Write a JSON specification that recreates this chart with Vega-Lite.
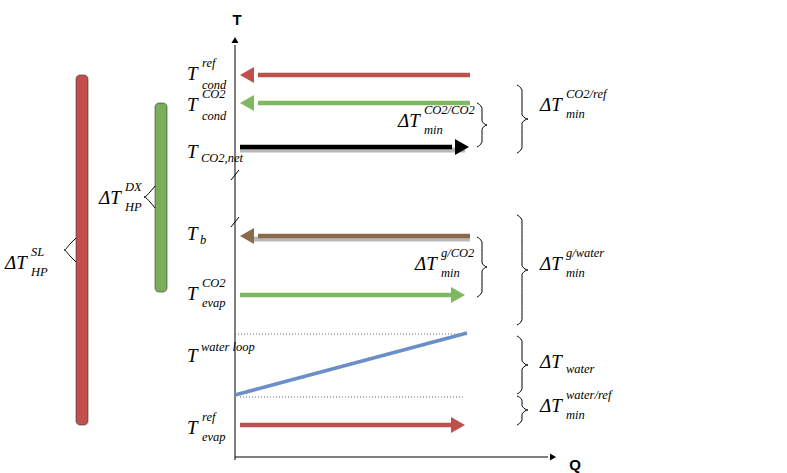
{
  "$schema": "https://vega.github.io/schema/vega-lite/v6.json",
  "autosize": {"type": "fit", "contains": "padding"},
  "width": 787,
  "height": 473,
  "padding": 0,
  "background": "white",
  "config": {"view": {"stroke": null}},
  "resolve": {"scale": {"color": "independent"}},
  "datasets": {
    "bars": [
      {"name": "SL", "x": 76, "x2": 88, "y": 75, "y2": 425},
      {"name": "DX", "x": 155, "x2": 167, "y": 103, "y2": 292}
    ],
    "axes": [
      {"x": 235, "y": 460, "x2": 235, "y2": 45},
      {"x": 235, "y": 457, "x2": 548, "y2": 457},
      {"x": 231, "y": 180, "x2": 239, "y2": 170},
      {"x": 231, "y": 227, "x2": 239, "y2": 217}
    ],
    "axisHeads": [
      {"x": 235, "y": 40, "shape": "triangle-up"},
      {"x": 553, "y": 457, "shape": "triangle-right"}
    ],
    "arrows": [
      {"id": "ref_cond", "x": 258, "x2": 470, "y": 75, "tip": 247, "dir": "triangle-left", "col": "red"},
      {"id": "co2_cond", "x": 258, "x2": 470, "y": 103, "tip": 247, "dir": "triangle-left", "col": "green"},
      {"id": "co2_net", "x": 240, "x2": 452, "y": 147, "tip": 462, "dir": "triangle-right", "col": "black"},
      {"id": "tb", "x": 258, "x2": 470, "y": 236, "tip": 247, "dir": "triangle-left", "col": "brown"},
      {"id": "co2_evap", "x": 240, "x2": 452, "y": 295, "tip": 458, "dir": "triangle-right", "col": "green"},
      {"id": "ref_evap", "x": 240, "x2": 452, "y": 425, "tip": 458, "dir": "triangle-right", "col": "red"}
    ],
    "shadows": [
      {"x": 240, "x2": 465, "y": 150},
      {"x": 252, "x2": 470, "y": 239}
    ],
    "dotted": [
      {"x": 235, "x2": 467, "y": 334},
      {"x": 240, "x2": 465, "y": 397}
    ],
    "loop": [
      {"x": 235, "y": 395, "x2": 467, "y2": 333}
    ],
    "braces": [
      {"b": "a", "o": 0, "x": 477, "y": 103}, {"b": "a", "o": 1, "x": 482, "y": 108}, {"b": "a", "o": 2, "x": 482, "y": 121}, {"b": "a", "o": 3, "x": 487, "y": 125}, {"b": "a", "o": 4, "x": 482, "y": 129}, {"b": "a", "o": 5, "x": 482, "y": 142}, {"b": "a", "o": 6, "x": 477, "y": 147},
      {"b": "b", "o": 0, "x": 517, "y": 85}, {"b": "b", "o": 1, "x": 522, "y": 90}, {"b": "b", "o": 2, "x": 522, "y": 115}, {"b": "b", "o": 3, "x": 528, "y": 119}, {"b": "b", "o": 4, "x": 522, "y": 123}, {"b": "b", "o": 5, "x": 522, "y": 148}, {"b": "b", "o": 6, "x": 517, "y": 153},
      {"b": "c", "o": 0, "x": 477, "y": 237}, {"b": "c", "o": 1, "x": 482, "y": 242}, {"b": "c", "o": 2, "x": 482, "y": 263}, {"b": "c", "o": 3, "x": 487, "y": 267}, {"b": "c", "o": 4, "x": 482, "y": 271}, {"b": "c", "o": 5, "x": 482, "y": 292}, {"b": "c", "o": 6, "x": 477, "y": 297},
      {"b": "d", "o": 0, "x": 517, "y": 215}, {"b": "d", "o": 1, "x": 522, "y": 220}, {"b": "d", "o": 2, "x": 522, "y": 266}, {"b": "d", "o": 3, "x": 528, "y": 270}, {"b": "d", "o": 4, "x": 522, "y": 274}, {"b": "d", "o": 5, "x": 522, "y": 320}, {"b": "d", "o": 6, "x": 517, "y": 325},
      {"b": "e", "o": 0, "x": 517, "y": 336}, {"b": "e", "o": 1, "x": 522, "y": 341}, {"b": "e", "o": 2, "x": 522, "y": 361}, {"b": "e", "o": 3, "x": 528, "y": 365}, {"b": "e", "o": 4, "x": 522, "y": 369}, {"b": "e", "o": 5, "x": 522, "y": 389}, {"b": "e", "o": 6, "x": 517, "y": 394},
      {"b": "f", "o": 0, "x": 517, "y": 396}, {"b": "f", "o": 1, "x": 522, "y": 400}, {"b": "f", "o": 2, "x": 522, "y": 406}, {"b": "f", "o": 3, "x": 528, "y": 410}, {"b": "f", "o": 4, "x": 522, "y": 414}, {"b": "f", "o": 5, "x": 522, "y": 420}, {"b": "f", "o": 6, "x": 517, "y": 425},
      {"b": "g", "o": 0, "x": 76, "y": 238}, {"b": "g", "o": 1, "x": 70, "y": 244}, {"b": "g", "o": 2, "x": 64, "y": 250}, {"b": "g", "o": 3, "x": 70, "y": 256}, {"b": "g", "o": 4, "x": 76, "y": 262},
      {"b": "h", "o": 0, "x": 155, "y": 186}, {"b": "h", "o": 1, "x": 150, "y": 192}, {"b": "h", "o": 2, "x": 144, "y": 197}, {"b": "h", "o": 3, "x": 150, "y": 202}, {"b": "h", "o": 4, "x": 155, "y": 208}
    ],
    "labels": [
      {"t": "T", "x": 187, "y": 80, "part": "base"}, {"t": "ref", "x": 202, "y": 67, "part": "sup"}, {"t": "cond", "x": 202, "y": 89, "part": "sub"},
      {"t": "T", "x": 187, "y": 111, "part": "base"}, {"t": "CO2", "x": 202, "y": 98, "part": "sup"}, {"t": "cond", "x": 202, "y": 120, "part": "sub"},
      {"t": "T", "x": 187, "y": 158, "part": "base"}, {"t": "CO2,net", "x": 201, "y": 162, "part": "sub"},
      {"t": "T", "x": 187, "y": 240, "part": "base"}, {"t": "b", "x": 200, "y": 244, "part": "sub"},
      {"t": "T", "x": 187, "y": 300, "part": "base"}, {"t": "CO2", "x": 202, "y": 287, "part": "sup"}, {"t": "evap", "x": 202, "y": 307, "part": "sub"},
      {"t": "T", "x": 187, "y": 362, "part": "base"}, {"t": "water loop", "x": 201, "y": 351, "part": "sup"},
      {"t": "T", "x": 187, "y": 434, "part": "base"}, {"t": "ref", "x": 202, "y": 421, "part": "sup"}, {"t": "evap", "x": 202, "y": 441, "part": "sub"},
      {"t": "ΔT", "x": 398, "y": 127, "part": "base"}, {"t": "CO2/CO2", "x": 424, "y": 114, "part": "sup"}, {"t": "min", "x": 424, "y": 134, "part": "sub"},
      {"t": "ΔT", "x": 540, "y": 111, "part": "base"}, {"t": "CO2/ref", "x": 566, "y": 98, "part": "sup"}, {"t": "min", "x": 566, "y": 118, "part": "sub"},
      {"t": "ΔT", "x": 415, "y": 270, "part": "base"}, {"t": "g/CO2", "x": 441, "y": 257, "part": "sup"}, {"t": "min", "x": 441, "y": 277, "part": "sub"},
      {"t": "ΔT", "x": 540, "y": 270, "part": "base"}, {"t": "g/water", "x": 566, "y": 257, "part": "sup"}, {"t": "min", "x": 566, "y": 277, "part": "sub"},
      {"t": "ΔT", "x": 540, "y": 368, "part": "base"}, {"t": "water", "x": 566, "y": 373, "part": "sub"},
      {"t": "ΔT", "x": 540, "y": 412, "part": "base"}, {"t": "water/ref", "x": 566, "y": 399, "part": "sup"}, {"t": "min", "x": 566, "y": 419, "part": "sub"},
      {"t": "ΔT", "x": 99, "y": 204, "part": "base"}, {"t": "DX", "x": 125, "y": 191, "part": "sup"}, {"t": "HP", "x": 125, "y": 211, "part": "sub"},
      {"t": "ΔT", "x": 5, "y": 269, "part": "base"}, {"t": "SL", "x": 31, "y": 256, "part": "sup"}, {"t": "HP", "x": 31, "y": 276, "part": "sub"}
    ],
    "axisText": [
      {"t": "T", "x": 237, "y": 20},
      {"t": "Q", "x": 575, "y": 465}
    ]
  },
  "encoding": {
    "x": {"field": "x", "type": "quantitative", "scale": {"domain": [0, 787]}, "axis": null},
    "y": {"field": "y", "type": "quantitative", "scale": {"domain": [0, 473], "reverse": true}, "axis": null}
  },
  "layer": [
    {
      "data": {"name": "bars"},
      "mark": {"type": "rect", "cornerRadius": 4, "stroke": "#333", "strokeWidth": 0.6},
      "encoding": {
        "x2": {"field": "x2"}, "y2": {"field": "y2"},
        "color": {"field": "name", "type": "nominal", "scale": {"domain": ["SL", "DX"], "range": ["#c0504d", "#7aae5a"]}, "legend": null}
      }
    },
    {
      "data": {"name": "braces"},
      "mark": {"type": "line", "color": "black", "strokeWidth": 1, "interpolate": "monotone"},
      "encoding": {"detail": {"field": "b"}, "order": {"field": "o", "type": "quantitative"}}
    },
    {
      "data": {"name": "axes"},
      "mark": {"type": "rule", "color": "black", "strokeWidth": 1},
      "encoding": {"x2": {"field": "x2"}, "y2": {"field": "y2"}}
    },
    {
      "data": {"name": "axisHeads"},
      "mark": {"type": "point", "filled": true, "color": "black", "size": 50, "opacity": 1},
      "encoding": {"shape": {"field": "shape", "type": "nominal", "scale": null}}
    },
    {
      "data": {"name": "dotted"},
      "mark": {"type": "rule", "color": "#666", "strokeWidth": 1, "strokeDash": [1, 2]},
      "encoding": {"x2": {"field": "x2"}}
    },
    {
      "data": {"name": "loop"},
      "mark": {"type": "rule", "color": "#6a8fc8", "strokeWidth": 3.5},
      "encoding": {"x2": {"field": "x2"}, "y2": {"field": "y2"}}
    },
    {
      "data": {"name": "shadows"},
      "mark": {"type": "rule", "color": "#b8b8b8", "strokeWidth": 5},
      "encoding": {"x2": {"field": "x2"}}
    },
    {
      "data": {"name": "arrows"},
      "layer": [
        {
          "mark": {"type": "rule", "strokeWidth": 4.5},
          "encoding": {"x2": {"field": "x2"}}
        },
        {
          "mark": {"type": "point", "filled": true, "size": 260, "opacity": 1},
          "encoding": {
            "x": {"field": "tip", "type": "quantitative"},
            "shape": {"field": "dir", "type": "nominal", "scale": null}
          }
        }
      ],
      "encoding": {
        "color": {"field": "col", "type": "nominal", "scale": {"domain": ["red", "green", "black", "brown"], "range": ["#c0504d", "#7fb862", "#000000", "#8a6a48"]}, "legend": null}
      }
    },
    {
      "data": {"name": "labels"},
      "transform": [{"filter": "datum.part === 'base'"}],
      "mark": {"type": "text", "font": "Liberation Serif", "fontStyle": "italic", "fontSize": 19, "align": "left", "baseline": "alphabetic"},
      "encoding": {"text": {"field": "t"}}
    },
    {
      "data": {"name": "labels"},
      "transform": [{"filter": "datum.part !== 'base'"}],
      "mark": {"type": "text", "font": "Liberation Serif", "fontStyle": "italic", "fontSize": 12.5, "align": "left", "baseline": "alphabetic"},
      "encoding": {"text": {"field": "t"}}
    },
    {
      "data": {"name": "axisText"},
      "mark": {"type": "text", "font": "Liberation Sans", "fontWeight": "bold", "fontSize": 15, "align": "center", "baseline": "middle"},
      "encoding": {"text": {"field": "t"}}
    }
  ]
}
